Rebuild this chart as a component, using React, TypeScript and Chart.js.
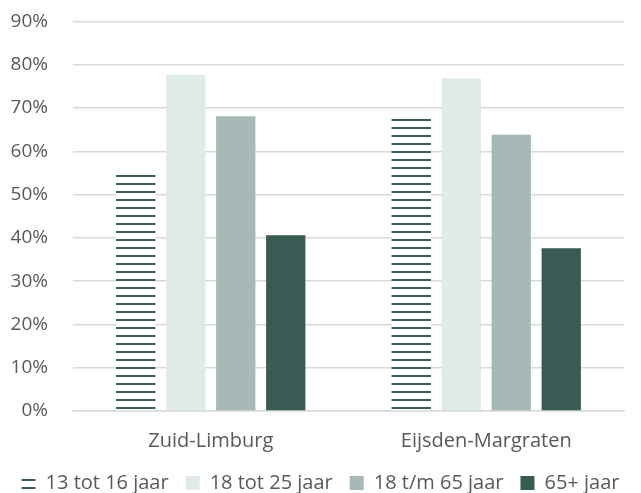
import React, { useEffect, useRef } from "react";
import { Chart, registerables } from "chart.js";

Chart.register(...registerables);

const categories = ["Zuid-Limburg", "Eijsden-Margraten"];
const seriesLabels = ["13 tot 16 jaar", "18 tot 25 jaar", "18 t/m 65 jaar", "65+ jaar"];
const values13to16 = [54.5, 67.5];
const values18to25 = [77.7, 76.8];
const values18to65 = [68.1, 63.8];
const values65plus = [40.6, 37.6];
const yTicks = [0, 10, 20, 30, 40, 50, 60, 70, 80, 90];

const FONT = "'Open Sans'";
const FS = 20;
const TEXT = "#595959";
const SHIFT = 15;
const EXTRA = 10;

function makeStripes(): CanvasPattern | string {
  const c = document.createElement("canvas");
  c.width = 8;
  c.height = 8;
  const ctx = c.getContext("2d");
  if (!ctx) return "#3a5e57";
  ctx.fillStyle = "#ffffff";
  ctx.fillRect(0, 0, 8, 8);
  ctx.fillStyle = "#3a5e57";
  ctx.fillRect(0, 6, 8, 2);
  const p = ctx.createPattern(c, "repeat");
  return p || "#3a5e57";
}

export default function App() {
  const ref = useRef<HTMLCanvasElement | null>(null);
  useEffect(() => {
    if (!ref.current) return;
    const stripes = makeStripes();
    const colors = [stripes, "#dfebe9", "#a7b9b6", "#385b54"];
    const data = [values13to16, values18to25, values18to65, values65plus];
    const chart = new Chart(ref.current, {
      type: "bar",
      data: {
        labels: categories,
        datasets: seriesLabels.map((l, i) => ({
          label: l,
          data: data[i],
          backgroundColor: colors[i] as any,
          borderWidth: 0,
          categoryPercentage: 0.726,
          barPercentage: 0.786,
        })),
      },
      options: {
        animation: false,
        responsive: false,
        maintainAspectRatio: false,
        layout: { padding: { top: 0, right: 0, left: 0, bottom: 0 } },
        plugins: {
          tooltip: { enabled: false },
          legend: {
            position: "bottom",
            labels: {
              color: TEXT,
              font: { family: FONT, size: FS },
              boxWidth: 14,
              boxHeight: 14,
              padding: 17,
            },
          },
        },
        scales: {
          x: {
            afterFit: (s: any) => {
              s.height -= 15;
            },
            grid: { display: false, drawTicks: false },
            border: { color: "#d9d9d9", width: 1.5 },
            ticks: { color: TEXT, font: { family: FONT, size: FS }, padding: 18 },
          },
          y: {
            min: 0,
            max: 90,
            afterFit: (s: any) => {
              s.width = 73;
            },
            afterBuildTicks: (s: any) => {
              s.ticks = yTicks.map((v) => ({ value: v }));
            },
            grid: { color: "#d9d9d9", lineWidth: 1.5, drawTicks: false },
            border: { display: false },
            ticks: {
              color: TEXT,
              font: { family: FONT, size: 19 },
              padding: 25,
              callback: (v: any) => v + "%",
            },
          },
          yr: {
            position: "right",
            min: 0,
            max: 90,
            afterFit: (s: any) => {
              s.width = 17;
            },
            grid: { display: false, drawTicks: false },
            border: { display: false },
            ticks: { display: false },
          },
        },
      },
    });
    return () => chart.destroy();
  }, []);
  return (
    <div style={{ position: "fixed", left: 0, top: 0, width: 641, height: 493, background: "#fff", overflow: "hidden" }}>
      <canvas
        ref={ref}
        width={641}
        height={493 + SHIFT + EXTRA}
        style={{ width: 641, height: 493 + SHIFT + EXTRA, display: "block", marginTop: -SHIFT }}
      />
    </div>
  );
}
